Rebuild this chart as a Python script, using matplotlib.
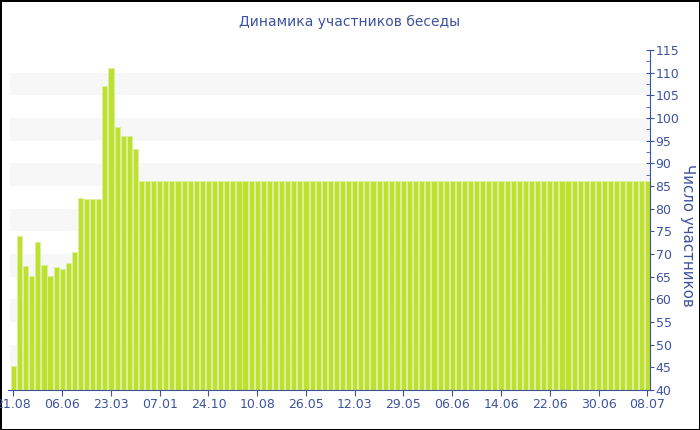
import matplotlib
matplotlib.use("Agg")
import matplotlib.pyplot as plt
from matplotlib.ticker import MultipleLocator

# participants per period
counts = [45.4, 74.0, 67.4, 65.1, 72.6, 67.5, 65.1, 67.1, 66.7, 68.0,
          70.5, 82.4, 82.1, 82.1, 82.1, 107.0, 111.0, 98.1, 96.0, 96.0,
          93.1,
          86, 86, 86, 86, 86, 86, 86, 86, 86, 86, 86, 86, 86, 86,
          86, 86, 86, 86, 86, 86, 86, 86, 86, 86, 86, 86, 86, 86,
          86, 86, 86, 86, 86, 86, 86, 86, 86, 86, 86, 86, 86, 86,
          86, 86, 86, 86, 86, 86, 86, 86, 86, 86, 86, 86, 86, 86,
          86, 86, 86, 86, 86, 86, 86, 86, 86, 86, 86, 86, 86, 86,
          86, 86, 86, 86, 86, 86, 86, 86, 86, 86, 86, 86, 86, 86]
tick_labels = ['21.08', '06.06', '23.03', '07.01', '24.10', '10.08', '26.05',
               '12.03', '29.05', '06.06', '14.06', '22.06', '30.06', '08.07']
label_step = 8

blue = '#3d53a0'
bar_color = '#bde12e'

fig = plt.figure(figsize=(7, 4.3), dpi=100)
fig.patch.set_edgecolor('black')
fig.patch.set_linewidth(2)

ax = fig.add_axes([8 / 700, 40 / 430, 642 / 700, 340 / 430])

# light grey bands behind the bars
for lo in range(45, 110, 10):
    ax.axhspan(lo, lo + 5, xmin=0.003, color='#f7f7f7', zorder=0, lw=0)

x = list(range(len(counts)))
ax.bar(x, counts, width=0.84, color=bar_color, edgecolor='#dcefa0',
       linewidth=0.6, zorder=2)

ax.set_xlim(-0.9, len(counts) - 0.55)
ax.set_ylim(40, 115)

ax.set_xticks(x[::label_step])
ax.set_xticklabels(tick_labels)

ax.yaxis.tick_right()
ax.yaxis.set_major_locator(MultipleLocator(5))
ax.yaxis.set_minor_locator(MultipleLocator(2.5))

for side in ['top', 'left']:
    ax.spines[side].set_visible(False)
for side in ['bottom', 'right']:
    ax.spines[side].set_color(blue)
    ax.spines[side].set_zorder(3)

ax.tick_params(axis='x', colors=blue, labelsize=9, length=4, direction='out', pad=2)
ax.tick_params(axis='y', which='major', colors=blue, labelsize=9,
               length=6, direction='inout', pad=1)
ax.tick_params(axis='y', which='minor', colors=blue, length=3, direction='in')
ax.tick_params(axis='y', which='minor', left=False)

# axis title sits a bit below the middle of the axis
fig.text(688 / 700, 1 - 235 / 430, 'Число участников', color=blue,
         fontsize=10.8, rotation=-90, ha='center', va='center')
fig.text(350 / 700, 1 - 22 / 430, 'Динамика участников беседы', color=blue,
         fontsize=10, ha='center', va='center')

fig.savefig('out.png', dpi=100, edgecolor=fig.get_edgecolor())
